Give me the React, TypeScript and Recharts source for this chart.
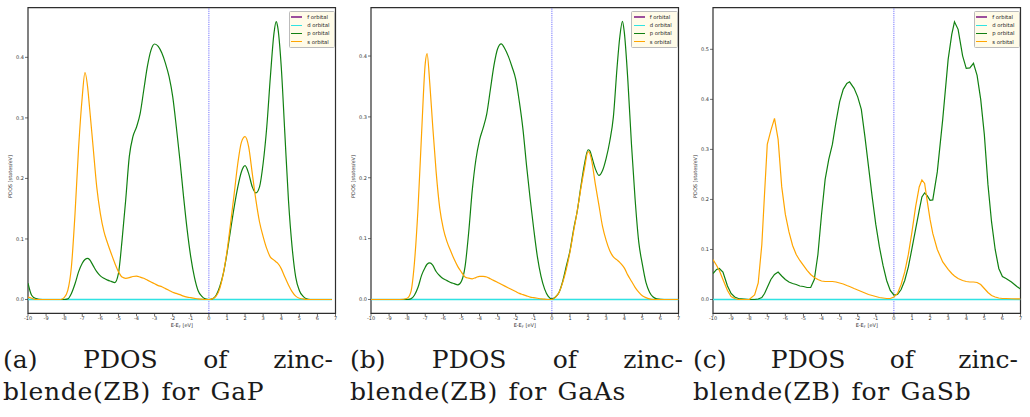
import React from "react";
import { LineChart, Line, XAxis, YAxis, ReferenceLine, ReferenceArea, Label } from "recharts";

// energy ticks shared by the three panels
const energyTicks = [-10, -9, -8, -7, -6, -5, -4, -3, -2, -1, 0, 1, 2, 3, 4, 5, 6, 7];
const orbitalLabels = ["f orbital", "d orbital", "p orbital", "s orbital"];
const orbitalColors = ["#9c4f9c", "#2fe3e3", "#118011", "#ffa500"];

// (a) GaP
const gapEnergy = [
  -10, -9.8, -9.6, -9.2, -8.6, -8.2, -8.0, -7.8, -7.6, -7.4, -7.2, -7.0, -6.85, -6.7, -6.6, -6.4, -6.2, -6.0,
  -5.8, -5.6, -5.4, -5.2, -5.0, -4.8, -4.6, -4.4, -4.2, -4.0, -3.8, -3.6, -3.4, -3.2, -3.0, -2.8, -2.6, -2.4,
  -2.2, -2.0, -1.8, -1.6, -1.4, -1.2, -1.0, -0.8, -0.6, -0.4, -0.2, 0, 0.2, 0.4, 0.6, 0.8, 1.0, 1.2, 1.4, 1.6,
  1.8, 2.0, 2.2, 2.4, 2.6, 2.8, 3.0, 3.2, 3.4, 3.6, 3.72, 3.8, 4.0, 4.2, 4.4, 4.6, 4.8, 5.0, 5.2, 5.4, 5.6, 6.0,
  6.4, 6.8,
];
const gapP = [
  0.027, 0.007, 0.002, 0, 0, 0, 0, 0.001, 0.01, 0.026, 0.046, 0.06, 0.066, 0.068, 0.066, 0.056, 0.046, 0.039,
  0.035, 0.032, 0.03, 0.028, 0.043, 0.098, 0.164, 0.236, 0.269, 0.285, 0.307, 0.346, 0.385, 0.412, 0.422, 0.418,
  0.407, 0.39, 0.368, 0.335, 0.285, 0.23, 0.17, 0.115, 0.07, 0.037, 0.015, 0.0055, 0.001, 0, 0.001, 0.007, 0.021,
  0.043, 0.076, 0.115, 0.153, 0.186, 0.211, 0.221, 0.208, 0.186, 0.176, 0.186, 0.225, 0.285, 0.368, 0.44, 0.459,
  0.451, 0.385, 0.274, 0.164, 0.087, 0.037, 0.015, 0.0055, 0.001, 0, 0, 0, 0,
];
const gapS = [
  0.004, 0.002, 0, 0, 0, 0, 0.003, 0.015, 0.054, 0.142, 0.252, 0.335, 0.375, 0.35, 0.318, 0.252, 0.186, 0.142,
  0.112, 0.093, 0.076, 0.06, 0.046, 0.037, 0.035, 0.036, 0.038, 0.0385, 0.037, 0.035, 0.032, 0.029, 0.026, 0.023,
  0.021, 0.018, 0.015, 0.012, 0.01, 0.008, 0.0055, 0.004, 0.003, 0.002, 0.001, 0.0005, 0, 0, 0.001, 0.0055, 0.018,
  0.043, 0.079, 0.126, 0.175, 0.225, 0.26, 0.269, 0.252, 0.208, 0.164, 0.128, 0.104, 0.084, 0.07, 0.065, 0.062,
  0.06, 0.051, 0.037, 0.024, 0.013, 0.0055, 0.002, 0.001, 0, 0, 0, 0, 0,
];

// (b) GaAs
const gaasEnergy = [
  -10, -9, -8.4, -8.0, -7.8, -7.6, -7.4, -7.2, -7.0, -6.9, -6.75, -6.6, -6.4, -6.2, -6.0, -5.8, -5.6, -5.4, -5.2,
  -5.0, -4.8, -4.6, -4.4, -4.2, -4.0, -3.8, -3.6, -3.4, -3.2, -3.0, -2.8, -2.6, -2.4, -2.2, -2.0, -1.8, -1.6, -1.4,
  -1.2, -1.0, -0.8, -0.6, -0.4, -0.2, 0, 0.2, 0.4, 0.6, 0.8, 1.0, 1.2, 1.4, 1.6, 1.8, 2.0, 2.1, 2.2, 2.4, 2.6, 2.8,
  3.0, 3.2, 3.4, 3.6, 3.75, 3.9, 4.0, 4.2, 4.4, 4.6, 4.8, 5.0, 5.2, 5.4, 5.6, 5.8, 6.2, 7.0,
];
const gaasP = [
  0, 0, 0, 0, 0.001, 0.007, 0.02, 0.04, 0.053, 0.058, 0.06, 0.057, 0.046, 0.039, 0.034, 0.031, 0.028, 0.026, 0.024,
  0.03, 0.054, 0.11, 0.18, 0.23, 0.262, 0.282, 0.305, 0.345, 0.385, 0.412, 0.42, 0.412, 0.399, 0.382, 0.362, 0.325,
  0.28, 0.22, 0.165, 0.115, 0.07, 0.038, 0.017, 0.005, 0.001, 0.004, 0.012, 0.03, 0.055, 0.08, 0.115, 0.145, 0.185,
  0.222, 0.246, 0.244, 0.235, 0.215, 0.204, 0.212, 0.232, 0.26, 0.3, 0.38, 0.43, 0.457, 0.44, 0.36, 0.255, 0.165,
  0.095, 0.058, 0.028, 0.012, 0.004, 0.001, 0, 0,
];
const gaasS = [
  0, 0, 0, 0.002, 0.012, 0.06, 0.15, 0.275, 0.388, 0.404, 0.355, 0.29, 0.21, 0.15, 0.116, 0.095, 0.08, 0.066, 0.054,
  0.045, 0.037, 0.035, 0.034, 0.036, 0.038, 0.038, 0.037, 0.034, 0.031, 0.028, 0.025, 0.022, 0.019, 0.016, 0.013,
  0.01, 0.008, 0.006, 0.004, 0.003, 0.002, 0.001, 0.0005, 0, 0, 0.004, 0.012, 0.028, 0.05, 0.078, 0.112, 0.145,
  0.182, 0.215, 0.243, 0.24, 0.228, 0.19, 0.155, 0.12, 0.097, 0.08, 0.07, 0.065, 0.061, 0.056, 0.052, 0.04, 0.03,
  0.02, 0.012, 0.006, 0.003, 0.001, 0, 0, 0, 0,
];

// (c) GaSb
const gasbEnergy = [
  -10, -9.8, -9.65, -9.45, -9.2, -9.0, -8.8, -8.6, -8.0, -7.7, -7.5, -7.3, -7.15, -7.0, -6.8, -6.6, -6.4, -6.2, -6.0,
  -5.8, -5.6, -5.4, -5.2, -5.0, -4.8, -4.6, -4.4, -4.2, -4.0, -3.8, -3.6, -3.4, -3.2, -3.0, -2.8, -2.6, -2.45, -2.2,
  -2.0, -1.8, -1.6, -1.4, -1.2, -1.0, -0.8, -0.6, -0.4, -0.2, 0, 0.2, 0.4, 0.6, 0.8, 1.0, 1.2, 1.4, 1.55, 1.7, 1.85,
  2.0, 2.15, 2.4, 2.7, 3.0, 3.2, 3.35, 3.55, 3.8, 4.0, 4.2, 4.4, 4.6, 4.8, 5.0, 5.2, 5.4, 5.6, 5.8, 6.0, 6.2, 6.5,
  6.8, 7.0,
];
const gasbP = [
  0.052, 0.06, 0.062, 0.055, 0.027, 0.012, 0.005, 0.002, 0, 0, 0.001, 0.004, 0.012, 0.024, 0.04, 0.05, 0.055, 0.047,
  0.04, 0.035, 0.032, 0.03, 0.027, 0.026, 0.024, 0.024, 0.04, 0.09, 0.17, 0.24, 0.28, 0.31, 0.355, 0.395, 0.42,
  0.432, 0.435, 0.422, 0.405, 0.38, 0.325, 0.265, 0.205, 0.15, 0.105, 0.068, 0.038, 0.018, 0.009, 0.01, 0.02,
  0.038, 0.065, 0.102, 0.14, 0.178, 0.205, 0.213, 0.207, 0.198, 0.199, 0.255, 0.36, 0.48, 0.53, 0.555, 0.54, 0.487,
  0.462, 0.463, 0.472, 0.448, 0.4, 0.33, 0.23, 0.155, 0.1, 0.062, 0.046, 0.042, 0.035, 0.026, 0.021,
];
const gasbS = [
  0.08, 0.068, 0.058, 0.04, 0.018, 0.006, 0.002, 0, 0, 0.009, 0.033, 0.11, 0.212, 0.31, 0.338, 0.362, 0.32, 0.225,
  0.17, 0.135, 0.108, 0.09, 0.078, 0.068, 0.058, 0.05, 0.044, 0.04, 0.037, 0.036, 0.036, 0.036, 0.035, 0.033, 0.031,
  0.028, 0.026, 0.022, 0.019, 0.016, 0.013, 0.01, 0.008, 0.006, 0.004, 0.003, 0.002, 0.002, 0.005, 0.012, 0.03,
  0.055, 0.09, 0.135, 0.185, 0.225, 0.239, 0.232, 0.195, 0.16, 0.132, 0.1, 0.075, 0.06, 0.052, 0.047, 0.042, 0.038,
  0.036, 0.035, 0.035, 0.034, 0.03, 0.022, 0.014, 0.008, 0.005, 0.003, 0.002, 0.002, 0.0015, 0.0013, 0.0013,
];

const panels = [
  {
    energy: gapEnergy, p: gapP, s: gapS, eMax: 6.8,
    yDomain: [-0.0228, 0.482], yTicks: [0, 0.1, 0.2, 0.3, 0.4], curve: "monotone",
    left: 28.3, caption: ["(a)", "PDOS", "of", "zinc-"], line2: "blende(ZB) for GaP", capLeft: 3, capWidth: 330,
  },
  {
    energy: gaasEnergy, p: gaasP, s: gaasS, eMax: 7,
    yDomain: [-0.0227, 0.4794], yTicks: [0, 0.1, 0.2, 0.3, 0.4], curve: "monotone",
    left: 370.7, caption: ["(b)", "PDOS", "of", "zinc-"], line2: "blende(ZB) for GaAs", capLeft: 350, capWidth: 333,
  },
  {
    energy: gasbEnergy, p: gasbP, s: gasbS, eMax: 7,
    yDomain: [-0.0276, 0.5832], yTicks: [0, 0.1, 0.2, 0.3, 0.4, 0.5], curve: "linear",
    left: 713.3, caption: ["(c)", "PDOS", "of", "zinc-"], line2: "blende(ZB) for GaSb", capLeft: 693, capWidth: 325,
  },
];

const tickStyle = { fill: "#333", fontSize: 5, fontFamily: "DejaVu Sans" };
const Y_AXIS_W = 28;
const PLOT_W = 307.5;

// legend box in the upper right corner of each panel
const OrbitalLegend = () => (
  <div
    style={{
      position: "absolute",
      left: Y_AXIS_W + PLOT_W - 47,
      top: 10.5,
      background: "#fffbe8",
      border: "0.8px solid #bbb",
      borderRadius: 1.5,
      padding: "1.5px 3px 1px 1.5px",
      fontFamily: "DejaVu Sans",
      fontSize: 5.3,
      lineHeight: "8.2px",
      color: "#222",
      width: 40,
    }}
  >
    {orbitalLabels.map((name, i) => (
      <div key={name} style={{ display: "flex", alignItems: "center", height: 8.2 }}>
        <span style={{ display: "inline-block", width: 11, height: 1.5, background: orbitalColors[i], marginRight: 5 }} />
        <span>{name}</span>
      </div>
    ))}
  </div>
);

const XLabel = ({ viewBox }: any) => (
  <text
    x={viewBox.x + viewBox.width / 2}
    y={viewBox.y + 14}
    textAnchor="middle"
    style={{ fontSize: 5, fontFamily: "DejaVu Sans", fill: "#333" }}
  >
    E-E<tspan fontSize={3.6} dy={1}>F</tspan>
    <tspan dy={-1}> [eV]</tspan>
  </text>
);

function PdosPanel({ cfg }: { cfg: (typeof panels)[number] }) {
  const rows = cfg.energy.map((e, i) => ({ e, p: cfg.p[i], s: cfg.s[i] }));
  const flat = [{ e: -10, v: 0 }, { e: cfg.eMax, v: 0 }];
  return (
    <div style={{ position: "absolute", left: cfg.left - Y_AXIS_W, top: 0 }}>
      <LineChart
        width={Y_AXIS_W + PLOT_W + 6}
        height={336}
        data={rows}
        margin={{ top: 7.7, right: 6, left: 0, bottom: 0 }}
      >
        <XAxis
          dataKey="e"
          type="number"
          domain={[-10, 7]}
          ticks={energyTicks}
          allowDataOverflow
          height={22.7}
          tick={tickStyle}
          tickSize={3}
          tickMargin={0}
          tickLine={{ stroke: "#333", strokeWidth: 0.7 }}
          axisLine={false}
          interval={0}
        >
          <Label content={<XLabel />} />
        </XAxis>
        <YAxis
          type="number"
          domain={cfg.yDomain}
          ticks={cfg.yTicks}
          allowDataOverflow
          width={Y_AXIS_W}
          tick={tickStyle}
          tickSize={3}
          tickMargin={1}
          tickFormatter={(v: number) => v.toFixed(1)}
          tickLine={{ stroke: "#333", strokeWidth: 0.7 }}
          axisLine={false}
          interval={0}
        >
          <Label
            value="PDOS [states/eV]"
            angle={-90}
            position="insideLeft"
            offset={10}
            dy={16}
            style={{ fontSize: 5, fontFamily: "DejaVu Sans", fill: "#333", textAnchor: "middle" }}
          />
        </YAxis>
        <ReferenceLine x={0} stroke="#3b3bff" strokeDasharray="1.2 1" strokeWidth={0.9} strokeOpacity={0.8} />
        <Line data={flat} dataKey="v" type="linear" stroke={orbitalColors[0]} strokeWidth={1} dot={false} isAnimationActive={false} />
        <Line data={flat} dataKey="v" type="linear" stroke={orbitalColors[1]} strokeWidth={1.3} dot={false} isAnimationActive={false} />
        <Line dataKey="p" type={cfg.curve as any} stroke={orbitalColors[2]} strokeWidth={1.2} dot={false} isAnimationActive={false} />
        <Line dataKey="s" type={cfg.curve as any} stroke={orbitalColors[3]} strokeWidth={1.2} dot={false} isAnimationActive={false} />
        <ReferenceArea
          x1={-10}
          x2={7}
          y1={cfg.yDomain[0]}
          y2={cfg.yDomain[1]}
          fill="none"
          stroke="#2e2e2e"
          strokeWidth={1.2}
        />
      </LineChart>
      <OrbitalLegend />
    </div>
  );
}

function Caption({ cfg }: { cfg: (typeof panels)[number] }) {
  return (
    <div
      style={{
        position: "absolute",
        left: cfg.capLeft,
        top: 344,
        width: cfg.capWidth,
        fontFamily: '"DejaVu Serif", serif',
        fontSize: 25,
        lineHeight: "32px",
        color: "#1a1a1a",
      }}
    >
      <div style={{ display: "flex", justifyContent: "space-between" }}>
        {cfg.caption.map((w) => (
          <span key={w}>{w}</span>
        ))}
      </div>
      <div style={{ whiteSpace: "nowrap", letterSpacing: 0.7, wordSpacing: 2 }}>{cfg.line2}</div>
    </div>
  );
}

export default function App() {
  return (
    <div style={{ position: "absolute", left: 0, top: 0, width: 1030, height: 417, background: "#fff", overflow: "hidden" }}>
      {panels.map((cfg, i) => (
        <React.Fragment key={i}>
          <PdosPanel cfg={cfg} />
          <Caption cfg={cfg} />
        </React.Fragment>
      ))}
    </div>
  );
}
